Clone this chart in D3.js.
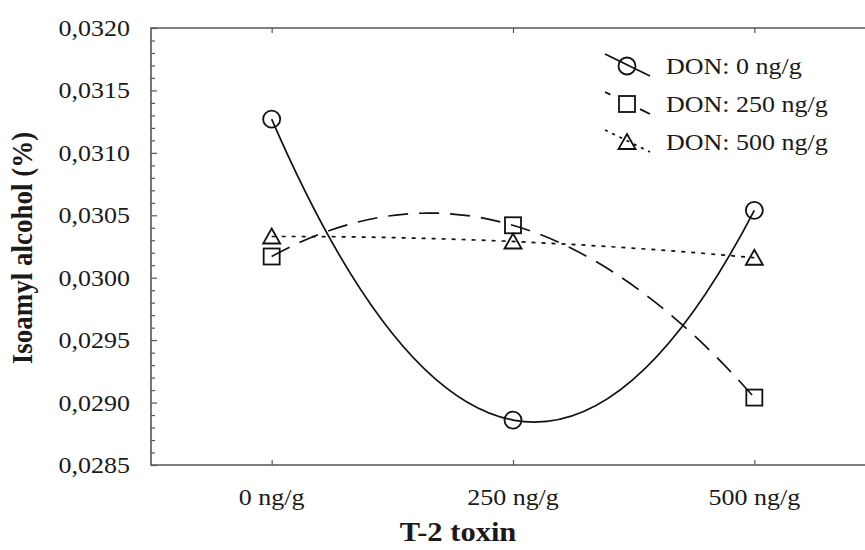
<!DOCTYPE html>
<html>
<head>
<meta charset="utf-8">
<style>
body { margin: 0; background: #fff; }
svg text { font-family: "Liberation Serif", "Times New Roman", serif; fill: #1a1a1a; }
.frame { stroke: #555; stroke-width: 1.6; fill: none; }
.tick line { stroke: #555; stroke-width: 1.2; }
.series { fill: none; stroke: #111; stroke-width: 1.7; }
.marker { fill: none; stroke: #111; stroke-width: 1.8; }
</style>
</head>
<body>
<svg id="chart" width="865" height="550"></svg>
<script src="https://cdn.jsdelivr.net/npm/d3@7"></script>
<script>
// data
var doses = ["0 ng/g", "250 ng/g", "500 ng/g"];
var seriesNames = ["DON: 0 ng/g", "DON: 250 ng/g", "DON: 500 ng/g"];
var don0 = [0.03127, 0.02886, 0.03054];
var don250 = [0.03017, 0.03042, 0.02904];
var don500 = [0.03033, 0.03029, 0.03016];
var yTicks = [0.0285, 0.0290, 0.0295, 0.0300, 0.0305, 0.0310, 0.0315, 0.0320];

var svg = d3.select("#chart");
var plotLeft = 151, plotRight = 875, plotTop = 28, plotBottom = 465;
var stretch = 1.13; // the picture's text is a bit wider than plain Times

var x = d3.scalePoint().domain(doses).range([plotLeft, plotRight]).padding(0.5);
var y = d3.scaleLinear().domain([0.0285, 0.0320]).range([plotBottom, plotTop]);

// parabola through the three points, drawn as one quadratic bezier
function curveQuad(context) {
  var pts = [];
  return {
    areaStart: function() {}, areaEnd: function() {},
    lineStart: function() { pts = []; },
    point: function(px, py) { pts.push([px, py]); },
    lineEnd: function() {
      var a = pts[0], b = pts[1], c = pts[2];
      context.moveTo(a[0], a[1]);
      context.quadraticCurveTo(2 * b[0] - (a[0] + c[0]) / 2, 2 * b[1] - (a[1] + c[1]) / 2, c[0], c[1]);
    }
  };
}

var line = d3.line()
  .x(function(d, i) { return x(doses[i]); })
  .y(function(d) { return y(d); })
  .curve(curveQuad);

// frame: left, top, bottom (right side runs off the picture)
svg.append("path").attr("class", "frame")
  .attr("d", "M865," + plotTop + "H" + plotLeft + "V" + plotBottom + "H865");

// left axis ticks (inside)
var yAxis = d3.axisRight(y).tickValues(d3.range(0.0285, 0.03201, 0.0001)).tickSize(5).tickFormat("");
var gy = svg.append("g").attr("transform", "translate(" + plotLeft + ",0)").call(yAxis);
gy.select(".domain").remove();
gy.selectAll(".tick line").attr("x2", function(d) {
  return yTicks.some(function(t) { return Math.abs(t - d) < 1e-7; }) ? 6 : 4;
});

svg.selectAll(".ylab").data(yTicks).enter().append("text")
  .attr("class", "ylab")
  .attr("transform", function(d) { return "translate(130," + y(d) + ") scale(" + stretch + ",1)"; })
  .attr("dy", "0.35em")
  .attr("text-anchor", "end")
  .style("font-size", "23px")
  .text(function(d) { return d.toFixed(4).replace(".", ","); });

// bottom and top ticks
var gx = svg.append("g").attr("transform", "translate(0," + plotBottom + ")")
  .call(d3.axisTop(x).tickSize(5).tickFormat(""));
gx.select(".domain").remove();
var gt = svg.append("g").attr("transform", "translate(0," + plotTop + ")")
  .call(d3.axisBottom(x).tickSize(5).tickFormat(""));
gt.select(".domain").remove();

svg.selectAll(".xlab").data(doses).enter().append("text")
  .attr("class", "xlab")
  .attr("transform", function(d) { return "translate(" + x(d) + ",505) scale(" + stretch + ",1)"; })
  .attr("text-anchor", "middle")
  .style("font-size", "23px")
  .text(function(d) { return d; });

svg.append("text")
  .attr("transform", "translate(458,541) scale(" + stretch + ",1)")
  .attr("text-anchor", "middle")
  .style("font-size", "27px")
  .style("font-weight", "bold")
  .text("T-2 toxin");

svg.append("text")
  .attr("transform", "translate(32,248) rotate(-90) scale(1," + stretch + ")")
  .attr("text-anchor", "middle")
  .style("font-size", "27px")
  .style("font-weight", "bold")
  .text("Isoamyl alcohol (%)");

// series
var series = [
  { name: seriesNames[0], values: don0, dash: null, shape: "circle" },
  { name: seriesNames[1], values: don250, dash: "20,11", shape: "square" },
  { name: seriesNames[2], values: don500, dash: "4,6", shape: "triangle" }
];

function drawMarker(g, shape, cx, cy) {
  if (shape == "circle") {
    g.append("circle").attr("class", "marker").attr("cx", cx).attr("cy", cy).attr("r", 8.5);
  } else if (shape == "square") {
    g.append("rect").attr("class", "marker").attr("x", cx - 8).attr("y", cy - 8)
      .attr("width", 16).attr("height", 16);
  } else {
    g.append("path").attr("class", "marker")
      .attr("d", "M" + cx + "," + (cy - 8) + "L" + (cx + 8.5) + "," + (cy + 7) + "L" + (cx - 8.5) + "," + (cy + 7) + "Z");
  }
}

series.forEach(function(s) {
  svg.append("path").attr("class", "series")
    .attr("d", line(s.values))
    .attr("stroke-dasharray", s.dash);
  var g = svg.append("g");
  s.values.forEach(function(v, i) { drawMarker(g, s.shape, x(doses[i]), y(v)); });
});

// legend
var legend = svg.selectAll(".legend").data(series).enter().append("g")
  .attr("class", "legend")
  .attr("transform", function(d, i) { return "translate(627," + (66 + i * 38) + ")"; });

legend.append("line").attr("class", "series")
  .attr("x1", -22).attr("y1", -12).attr("x2", 23).attr("y2", 10)
  .attr("stroke-dasharray", function(d) { return d.dash ? (d.dash == "4,6" ? "3,5" : "6,33,12") : null; });

legend.each(function(d) { drawMarker(d3.select(this), d.shape, 0, 0); });

legend.append("text")
  .attr("transform", "translate(39,0) scale(" + stretch + ",1)")
  .attr("dy", "0.35em")
  .style("font-size", "23px")
  .text(function(d) { return d.name; });
</script>
</body>
</html>
